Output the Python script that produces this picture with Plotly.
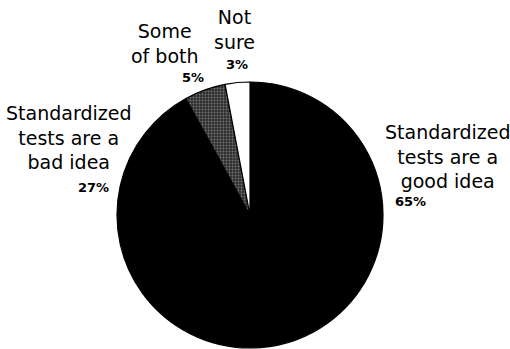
import plotly.graph_objects as go

categories = ["Standardized tests are a good idea", "Standardized tests are a bad idea",
              "Some of both", "Not sure"]
label_text = ["Standardized<br>tests are a<br>good idea", "Standardized<br>tests are a<br>bad idea",
              "Some<br>of both", "Not<br>sure"]
values = [65, 27, 5, 3]
colors = ["#000000", "#000000", "#2e2e2e", "#ffffff"]

W, H = 510, 349
cx, cy, r = 250, 215, 133

fig = go.Figure(go.Pie(
    labels=categories, values=values, sort=False, direction="clockwise", rotation=0,
    textinfo="none", hoverinfo="label+percent", showlegend=False,
    marker=dict(colors=colors, line=dict(color="#000000", width=1.2),
                pattern=dict(shape=["", "", ".", ""], fgcolor="#bbbbbb", bgcolor="#2e2e2e",
                             fillmode="overlay", size=3, solidity=0.3)),
    domain=dict(x=[(cx - r) / W, (cx + r) / W], y=[1 - (cy + r) / H, 1 - (cy - r) / H]),
))

# label positions (pixel centers)
lab_pos = [(447, 156), (68, 137), (165, 44), (234, 29)]
pct_pos = [(410, 202), (93, 187), (193, 77), (237, 65)]

font = "DejaVu Sans"
for i in range(len(values)):
    x, y = lab_pos[i]
    fig.add_annotation(x=x / W, y=1 - y / H, xref="paper", yref="paper", text=label_text[i],
                       showarrow=False, xanchor="center", yanchor="middle",
                       font=dict(family=font, size=19, color="#000000"))
    x, y = pct_pos[i]
    fig.add_annotation(x=x / W, y=1 - y / H, xref="paper", yref="paper", text=f"<b>{values[i]}%</b>",
                       showarrow=False, xanchor="center", yanchor="middle",
                       font=dict(family=font, size=13, color="#000000"))

fig.update_layout(width=W, height=H, margin=dict(l=0, r=0, t=0, b=0),
                  paper_bgcolor="#ffffff", plot_bgcolor="#ffffff")
fig.write_html("out.html")
